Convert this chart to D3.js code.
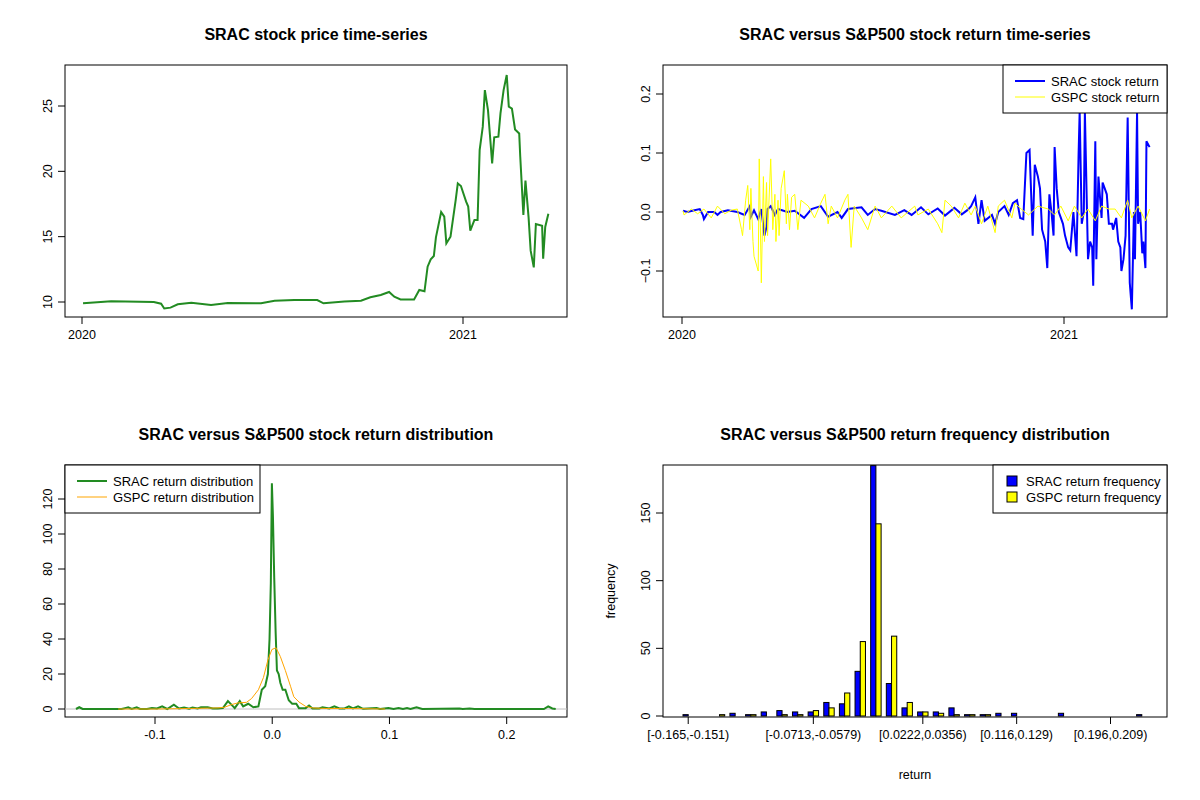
<!DOCTYPE html>
<html><head><meta charset="utf-8">
<script src="https://cdn.jsdelivr.net/npm/d3@7"></script>
<style>body{margin:0;background:#fff}svg{font-family:"Liberation Sans",Arial,sans-serif}</style>
</head><body>
<script>
// ---- data ----
// price: day offset from 2020-01-02, close
const priceDays = [0,17,27,68,75,78,84,91,104,123,139,171,184,203,225,231,251,267,276,286,294,299,305,318,323,328,331,334,337,339,344,347,349,353,358,360,363,368,370,372,376,379,381,384,386,389,392,393,395,399,401,404,407,409,412,415,419,420,423,425,428,430,433,435,441,442,444,447];
const priceVals = [9.9,10.0,10.05,10.0,9.87,9.5,9.57,9.83,9.94,9.77,9.92,9.9,10.1,10.15,10.15,9.9,10.03,10.1,10.36,10.54,10.77,10.41,10.2,10.2,10.92,10.82,12.7,13.27,13.52,14.95,16.89,16.53,14.49,15.0,17.81,19.08,18.88,17.68,17.3,15.46,16.28,16.28,21.63,23.42,26.22,24.69,21.63,20.61,22.6,22.65,24.44,26.22,27.37,24.95,24.8,23.2,22.9,21.12,16.66,19.29,16.48,13.93,12.65,15.97,15.84,13.32,15.74,16.76];

const sracRetDays = [0,4,11,16,19,20,24,30,33,36,43,52,59,64,65,68,72,75,78,80,81,84,88,91,100,107,116,123,132,139,148,152,158,171,177,184,190,203,212,219,228,235,244,251,260,267,273,276,280,283,286,289,296,299,302,308,312,316,320,323,326,329,332,335,337,340,342,344,347,349,351,353,355,356,358,360,362,364,366,369,371,374,376,377,379,380,382,384,385,388,390,392,393,395,396,398,401,402,404,406,408,411,412,415,417,419,420,422,424,426,428,430,432,433,435,436,438,440,441,443,444,447];
const sracRet = [0.002,0,0.003,0.005,-0.005,-0.012,0,0,-0.005,0,0.003,0,-0.005,0.01,-0.008,0.003,-0.012,0.005,-0.04,-0.025,0.005,0.01,-0.005,0.005,0,0.002,-0.01,0.005,0.01,-0.008,0,-0.01,0.005,0.008,-0.005,0.005,0.002,-0.005,0.003,-0.005,0.008,-0.004,0.006,-0.006,0.007,-0.004,0.004,0.01,0.025,-0.02,0.02,-0.015,-0.005,-0.02,0,0.01,-0.005,0.015,0.02,-0.01,-0.012,0.1,0.105,-0.04,0.08,0.06,0.04,-0.03,-0.05,-0.095,0.03,0,-0.04,0.11,0.04,0,-0.01,-0.02,-0.04,-0.06,-0.065,0,-0.05,-0.075,0.1,0.17,-0.02,0,0.17,-0.08,-0.05,-0.06,-0.125,0.12,-0.08,0.06,-0.01,0.05,0.04,0.03,-0.02,-0.02,-0.03,-0.01,-0.05,-0.06,-0.1,-0.08,-0.04,0.16,-0.12,-0.165,0,-0.08,0.17,-0.02,0,-0.07,-0.05,-0.095,0.12,0.11];

const gspcRetDays = [0,1,8,14,20,27,33,40,46,52,56,57,59,60,62,64,65,67,68,72,73,75,77,78,80,81,84,86,88,89,91,92,94,97,99,100,102,104,107,110,113,120,126,132,136,139,142,148,155,158,161,164,171,177,184,190,200,209,222,225,235,244,248,251,257,264,270,276,280,286,292,299,302,308,315,318,324,331,340,350,356,362,369,375,382,388,395,401,408,414,420,426,430,436,443,447];
const gspcRet = [0.002,-0.005,0.005,-0.003,0.005,-0.01,0.01,-0.003,0.003,0.005,-0.03,-0.04,0,0.02,0.045,-0.03,0.04,-0.05,-0.075,-0.1,0.09,-0.12,0.06,-0.05,0.05,-0.04,0.09,-0.03,0.03,-0.05,0.02,-0.04,0.04,0.07,-0.02,0.03,-0.03,0.025,0.03,-0.03,0.02,0.01,-0.01,0.015,0.03,-0.02,0.01,-0.01,0.02,0.03,-0.06,0.01,-0.01,-0.03,0.01,-0.01,0.01,-0.01,0.01,-0.005,0.005,-0.02,-0.035,0.02,0.01,-0.01,0.015,-0.005,0.01,-0.02,0.01,-0.035,0.01,0.02,-0.01,0.015,0.005,-0.005,0.01,0.005,-0.005,0.01,-0.015,0.01,-0.01,0.005,-0.015,0.01,0.005,0.005,-0.01,0.02,-0.01,0.01,-0.015,0.005];

// densities: x = return, y = density
const sracDensX = [-0.1674,-0.1646,-0.1617,-0.1285,-0.1256,-0.1228,-0.1199,-0.1156,-0.1127,-0.1069,-0.1026,-0.0983,-0.0939,-0.0896,-0.0839,-0.0795,-0.0752,-0.0709,-0.068,-0.0637,-0.0608,-0.055,-0.0507,-0.0464,-0.0421,-0.0378,-0.0334,-0.032,-0.0277,-0.0248,-0.0205,-0.0161,-0.0118,-0.0089,-0.006,-0.0037,-0.0023,-0.0012,-0.0003,0.0006,0.0017,0.0029,0.004,0.0055,0.0069,0.0089,0.0112,0.0141,0.017,0.0205,0.0228,0.0285,0.0314,0.0343,0.0401,0.0429,0.0487,0.053,0.0573,0.0617,0.0654,0.0689,0.0732,0.0775,0.089,0.0919,0.0991,0.1035,0.1078,0.1115,0.115,0.1179,0.1231,0.128,0.1597,0.1625,0.1683,0.1726,0.2317,0.2354,0.2389,0.2418];
const sracDensY = [0,1,0,0,0.5,1,0,1,0,0,0.5,0.3,1.5,0,2.5,0.3,0.8,0.2,0.8,0.3,1,1,0.3,0.3,0.5,4.5,1.5,0.5,4.5,1.5,3,1,1.5,11,13,20,40,72,129,110,75,44,22,20,15,11,11,5,3,3,0.5,0.5,2,0.3,0.3,1,0.3,1.5,0.3,0.3,1.5,0.3,1.5,0.1,0.5,0,0.6,0,0.6,0,0.6,0,1,0,0.3,0,0.3,0,0,1.5,0.3,0];
const gspcDensX = [-0.1314,-0.0983,-0.0695,-0.055,-0.0464,-0.0406,-0.0349,-0.0291,-0.0219,-0.0176,-0.0118,-0.0075,-0.0037,-0.0003,0.0032,0.0069,0.0112,0.0156,0.0184,0.0228,0.0285,0.0343,0.0458,0.0602,0.0746,0.0963];
const gspcDensY = [0,0,0.3,0.5,0.6,1,2.5,3.5,3.8,6,11,18,28,34,35,30,22,13,7,4,1.5,0.6,0.3,0.3,0.2,0];

// histogram counts per bin
const sracFreq = [1,0,0,2,1,3,4,3,3,10,9,33,185,24,6,3,3,6,1,1,2,2,0,0,2,0,0,0,0,1];
const gspcFreq = [0,0,1,0,1,0,1,1,4,6,17,55,142,59,10,3,2,1,1,1,0,0,0,0,0,0,0,0,0,0];
const binLabels = ["[-0.165,-0.151)","[-0.0713,-0.0579)","[0.0222,0.0356)","[0.116,0.129)","[0.196,0.209)"];
const binLabelAt = [0,8,15,21,27];

// ---- drawing ----
const svg = d3.select("body").append("svg").attr("width",1200).attr("height",800);
const base = new Date(2020,0,2);
const dayDate = d => d3.timeDay.offset(base, d);

function frame(x0,y0,x1,y1,title,ty){
  svg.append("rect").attr("x",x0).attr("y",y0).attr("width",x1-x0).attr("height",y1-y0)
     .attr("fill","none").attr("stroke","#000");
  svg.append("text").attr("x",(x0+x1)/2).attr("y",ty).attr("text-anchor","middle")
     .attr("font-size",16).attr("font-weight","bold").text(title);
}
function yTicks(x0,scale,vals,fmt){
  vals.forEach(v=>{
    const y=scale(v);
    svg.append("line").attr("x1",x0).attr("x2",x0-7).attr("y1",y).attr("y2",y).attr("stroke","#000");
    svg.append("text").attr("transform",`translate(${x0-13},${y}) rotate(-90)`).attr("text-anchor","middle")
       .attr("font-size",12.5).text(fmt(v));
  });
}
function xTicks(y0,scale,vals,labels){
  vals.forEach((v,i)=>{
    const x=scale(v);
    svg.append("line").attr("x1",x).attr("x2",x).attr("y1",y0).attr("y2",y0+7).attr("stroke","#000");
    svg.append("text").attr("x",x).attr("y",y0+22).attr("text-anchor","middle").attr("font-size",12.5).text(labels[i]);
  });
}
function clip(id,x0,y0,x1,y1){
  svg.append("clipPath").attr("id",id).append("rect").attr("x",x0).attr("y",y0).attr("width",x1-x0).attr("height",y1-y0);
  return svg.append("g").attr("clip-path",`url(#${id})`);
}
function legend(x0,y0,x1,items,kind){
  svg.append("rect").attr("x",x0).attr("y",y0).attr("width",x1-x0).attr("height",48).attr("fill","#fff").attr("stroke","#000");
  items.forEach((it,i)=>{
    const y=y0+16+i*16;
    if(kind==="box") svg.append("rect").attr("x",x0+14).attr("y",y-5).attr("width",10).attr("height",10).attr("fill",it.c).attr("stroke","#000");
    else svg.append("line").attr("x1",x0+12).attr("x2",x0+42).attr("y1",y).attr("y2",y).attr("stroke",it.c).attr("stroke-width",it.w);
    svg.append("text").attr("x",x0+(kind==="box"?33:48)).attr("y",y+4.5).attr("font-size",13).text(it.t);
  });
}
const line = (xs,sx,sy,ys)=>d3.line().x((d,i)=>sx(xs[i])).y(d=>sy(d))(ys);

// panel 1
{
  const sx=d3.scaleTime().domain([new Date(2020,0,1),new Date(2021,0,1)]).range([82,463]);
  const sy=d3.scaleLinear().domain([10,25]).range([302,106]);
  frame(65,65,567,317,"SRAC stock price time-series",40);
  const g=clip("c1",65,65,567,317);
  g.append("path").attr("d",line(priceDays.map(dayDate),sx,sy,priceVals)).attr("fill","none").attr("stroke","#228B22").attr("stroke-width",2);
  yTicks(65,sy,[10,15,20,25],d3.format("d"));
  xTicks(317,sx,[new Date(2020,0,1),new Date(2021,0,1)],["2020","2021"]);
}
// panel 2
{
  const sx=d3.scaleTime().domain([new Date(2020,0,1),new Date(2021,0,1)]).range([682,1064]);
  const sy=d3.scaleLinear().domain([0,0.1]).range([212,153]);
  frame(663,65,1167,317,"SRAC versus S&P500 stock return time-series",40);
  const g=clip("c2",663,65,1167,317);
  g.append("path").attr("d",line(sracRetDays.map(dayDate),sx,sy,sracRet)).attr("fill","none").attr("stroke","#0000ff").attr("stroke-width",2);
  g.append("path").attr("d",line(gspcRetDays.map(dayDate),sx,sy,gspcRet)).attr("fill","none").attr("stroke","#ffff00").attr("stroke-width",1);
  yTicks(663,sy,[-0.1,0,0.1,0.2],d3.format(".1f"));
  xTicks(317,sx,[new Date(2020,0,1),new Date(2021,0,1)],["2020","2021"]);
  legend(1003,65,1167,[{t:"SRAC stock return",c:"#0000ff",w:2},{t:"GSPC stock return",c:"#ffff00",w:1}]);
}
// panel 3
{
  const sx=d3.scaleLinear().domain([-0.1,0.2]).range([155,506.7]);
  const sy=d3.scaleLinear().domain([0,100]).range([709,534]);
  frame(65,465,567,717,"SRAC versus S&P500 stock return distribution",440);
  const g=clip("c3",65,465,567,717);
  g.append("line").attr("x1",65).attr("x2",567).attr("y1",sy(0)).attr("y2",sy(0)).attr("stroke","#bebebe");
  g.append("path").attr("d",line(sracDensX,sx,sy,sracDensY)).attr("fill","none").attr("stroke","#228B22").attr("stroke-width",2);
  g.append("path").attr("d",line(gspcDensX,sx,sy,gspcDensY)).attr("fill","none").attr("stroke","#ffa500").attr("stroke-width",1);
  yTicks(65,sy,[0,20,40,60,80,100,120],d3.format("d"));
  xTicks(717,sx,[-0.1,0,0.1,0.2],["-0.1","0.0","0.1","0.2"]);
  legend(65,465,260,[{t:"SRAC return distribution",c:"#228B22",w:2},{t:"GSPC return distribution",c:"#ffa500",w:1}]);
}
// panel 4
{
  const sx=d3.scaleLinear().domain([1,90]).range([683,1147]);
  const sy=d3.scaleLinear().domain([0,150]).range([716,513]);
  frame(663,465,1167,717,"SRAC versus S&P500 return frequency distribution",440);
  const g=clip("c4",663,465,1167,717);
  [[sracFreq,"#0000ff",1],[gspcFreq,"#ffff00",2]].forEach(([arr,c,o])=>{
    g.selectAll(null).data(arr).join("rect")
      .attr("x",(d,i)=>sx(3*i+o)).attr("width",sx(2)-sx(1))
      .attr("y",d=>sy(d)).attr("height",d=>sy(0)-sy(d))
      .attr("fill",c).attr("stroke","#000");
  });
  yTicks(663,sy,[0,50,100,150],d3.format("d"));
  xTicks(717,v=>sx(3*v+2),binLabelAt,binLabels);
  svg.append("text").attr("x",915).attr("y",779).attr("text-anchor","middle").attr("font-size",12.5).text("return");
  svg.append("text").attr("transform","translate(615,591) rotate(-90)").attr("text-anchor","middle").attr("font-size",12.5).text("frequency");
  legend(993,465,1167,[{t:"SRAC return frequency",c:"#0000ff"},{t:"GSPC return frequency",c:"#ffff00"}],"box");
}
</script>
</body></html>
